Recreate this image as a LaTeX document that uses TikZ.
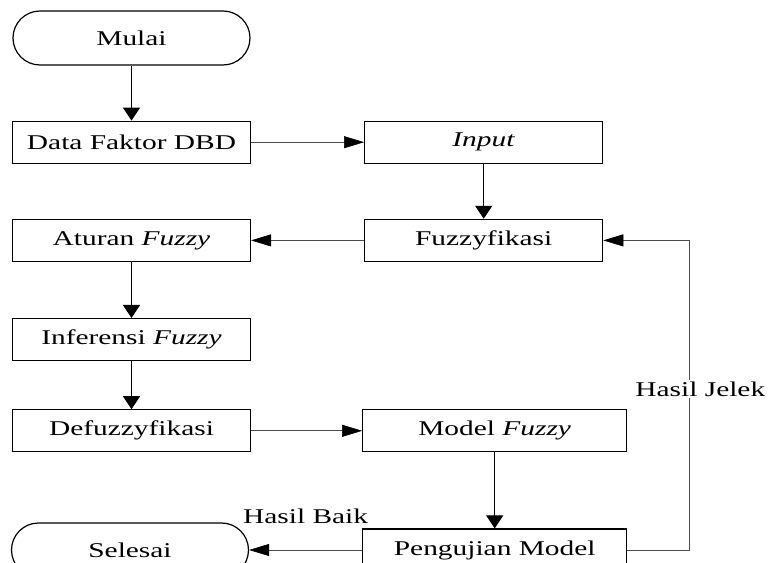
\documentclass[tikz,border=0pt]{standalone}
\usepackage{fontspec}
\setmainfont{Liberation Serif}
\usepackage{graphicx}
\usetikzlibrary{positioning,arrows.meta}

\newcommand{\wide}[1]{\scalebox{1.4}[1]{#1}}

\tikzset{
  proses/.style={draw, line width=1.2pt, minimum width=238pt, minimum height=42pt,
    inner sep=0pt, font=\fontsize{21}{25}\selectfont},
  terminal/.style={proses, rounded corners=27pt, minimum height=54pt, minimum width=237pt},
  vflow/.style={-{Triangle[length=13pt,width=17pt]}, line width=1pt},
  hflow/.style={-{Triangle[length=20pt,width=12pt,color=black]}, line width=0.6pt, draw=black!70},
  ket/.style={font=\fontsize{21}{25}\selectfont, fill=white, inner sep=2pt}
}

\begin{document}
\begin{tikzpicture}[x=1pt,y=1pt]
  \useasboundingbox (0,0) rectangle (773,562);
  \clip (0,0) rectangle (773,562);

  % Define nodes
  \node[terminal]                                    (mulai)     at (131.5,524) {\wide{Mulai}};
  \node[proses,   below=55pt of mulai]               (data)      {\wide{Data Faktor DBD}};
  \node[proses,   right=113pt of data]               (input)     {\wide{\textit{Input}}};
  \node[proses,   below=55pt of input]               (fuzz)      {\wide{Fuzzyfikasi}};
  \node[proses,   below=55pt of data]                (aturan)    {\wide{Aturan \textit{Fuzzy}}};
  \node[proses,   below=56pt of aturan]              (inferensi) {\wide{Inferensi \textit{Fuzzy}}};
  \node[proses,   below=48pt of inferensi]           (defuzz)    {\wide{Defuzzyfikasi}};
  \node[proses,   right=111pt of defuzz, minimum width=264pt] (model) {\wide{Model \textit{Fuzzy}}};
  \node[proses,   below=76pt of model, minimum width=264pt]   (uji)   {\wide{Pengujian Model}};
  \node[terminal, left=113pt of uji]                 (selesai)   {\wide{Selesai}};
  \coordinate[right=62pt of uji.east]                (belok);

  % Connect the nodes
  \draw[vflow] (mulai) -- (data);
  \draw[hflow] (data) -- (input);
  \draw[vflow] (input) -- (fuzz);
  \draw[hflow] (fuzz) -- (aturan);
  \draw[vflow] (aturan) -- (inferensi);
  \draw[vflow] (inferensi) -- (defuzz);
  \draw[hflow] (defuzz) -- (model);
  \draw[vflow] (model) -- (uji);
  \draw[hflow] (uji) -- node[ket, midway, yshift=34pt] {\wide{Hasil Baik}} (selesai);
  \draw[hflow] (uji) -- (belok) |- node[ket, pos=0.26, xshift=11pt] {\wide{Hasil Jelek}} (fuzz);
\end{tikzpicture}
\end{document}
